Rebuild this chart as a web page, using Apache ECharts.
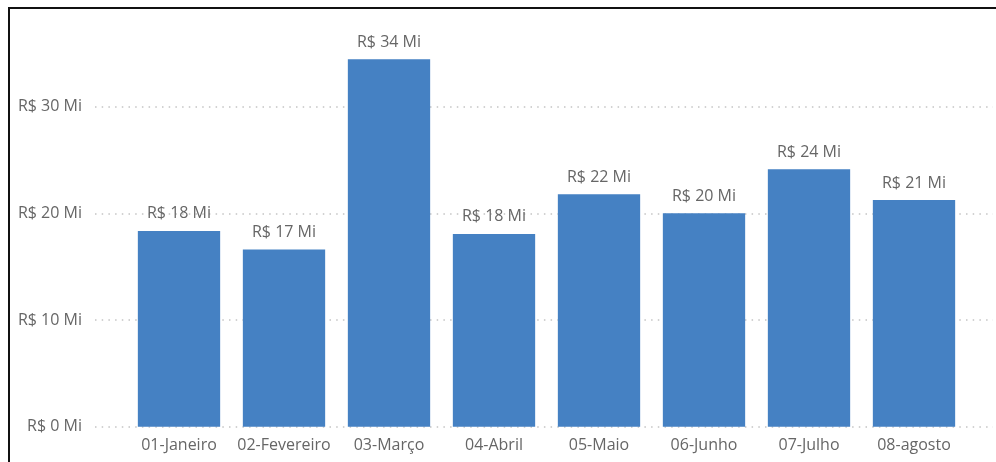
<!DOCTYPE html>
<html>
<head>
<meta charset="utf-8">
<script src="https://cdn.jsdelivr.net/npm/echarts@6.0.0/dist/echarts.min.js"></script>
<style>
  html, body { margin: 0; padding: 0; background: #fff; }
  #chart { position: absolute; left: 0; top: 0; width: 996px; height: 462px; }
  .frame {
    position: absolute;
    left: 8px;
    top: 7px;
    width: 1000px;
    height: 470px;
    border-left: 2px solid #111;
    border-top: 2px solid #111;
    pointer-events: none;
  }
</style>
</head>
<body>
<div id="chart"></div>
<div class="frame"></div>
<script>
// meses e faturamento (milhões de R$)
const months = ['01-Janeiro', '02-Fevereiro', '03-Março', '04-Abril', '05-Maio', '06-Junho', '07-Julho', '08-agosto'];
const revenue = [18.35, 16.6, 34.45, 18.07, 21.79, 20.0, 24.13, 21.25];
const yTicks = [0, 10, 20, 30];

const textColor = '#666';
const fontFamily = "'Open Sans', sans-serif";
const yMax = 35;

const money = (v) => 'R$ ' + Math.round(v) + ' Mi';

var chart = echarts.init(document.getElementById('chart'));
var option = {
  animation: false,
  textStyle: { fontFamily: fontFamily },
  grid: [
    // fundo: rótulos do eixo y e linhas pontilhadas
    { left: 95, right: 3, top: 53.3, bottom: 35.3 },
    // barras
    { left: 126.5, right: 29.5, top: 53.3, bottom: 35.3 }
  ],
  xAxis: [
    { gridIndex: 0, type: 'value', show: false },
    {
      gridIndex: 1,
      type: 'category',
      data: months,
      axisLine: { show: false },
      axisTick: { show: false },
      axisLabel: {
        color: textColor,
        fontSize: 16,
        lineHeight: 16,
        margin: 11,
        interval: 0
      }
    }
  ],
  yAxis: [
    {
      gridIndex: 0,
      type: 'value',
      min: 0,
      max: yMax,
      interval: 10,
      axisLine: { show: false },
      axisTick: { show: false },
      axisLabel: {
        color: textColor,
        fontSize: 16,
        margin: 13,
        showMaxLabel: false,
        formatter: function (v) {
          return yTicks.indexOf(v) >= 0 ? money(v) : '';
        }
      },
      splitLine: {
        showMaxLine: false,
        lineStyle: { color: '#c4c4c4', width: 1.5, type: [1.5, 5.2] }
      }
    },
    {
      gridIndex: 1,
      type: 'value',
      min: 0,
      max: yMax,
      show: false
    }
  ],
  series: [
    {
      type: 'bar',
      xAxisIndex: 1,
      yAxisIndex: 1,
      data: revenue,
      barCategoryGap: '21.6%',
      itemStyle: { color: '#4581c3' },
      label: {
        show: true,
        position: 'top',
        distance: 9,
        color: textColor,
        fontSize: 16,
        lineHeight: 16,
        formatter: function (p) { return money(p.value); }
      }
    }
  ]
};
chart.setOption(option);
</script>
</body>
</html>
